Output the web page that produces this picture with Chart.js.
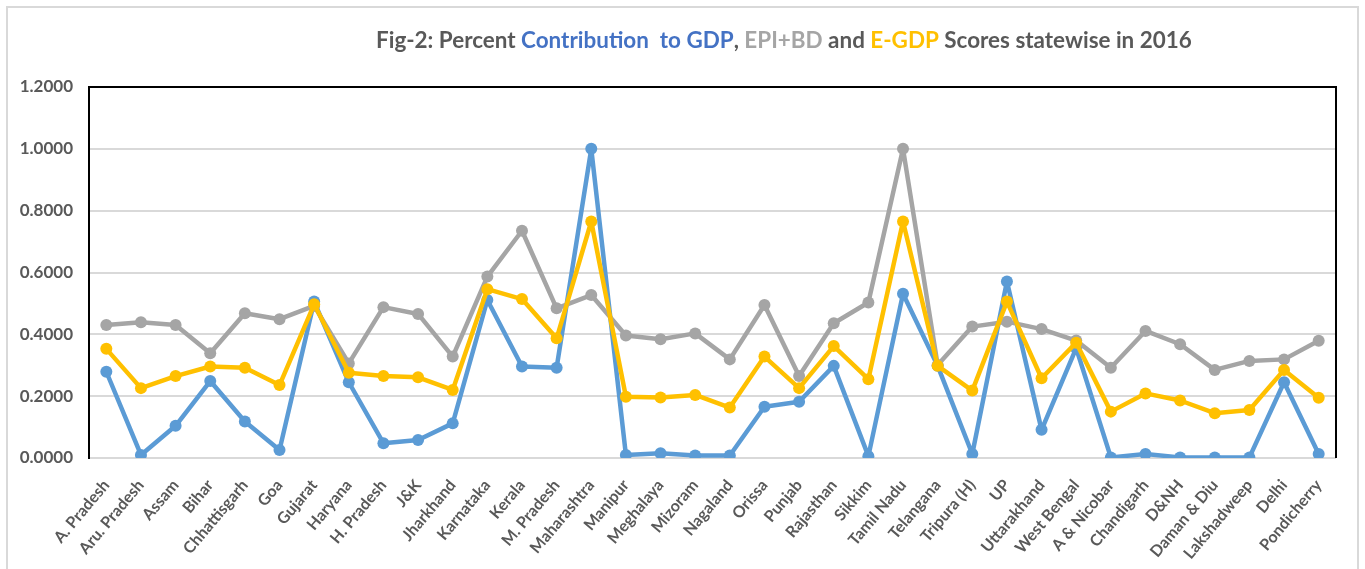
<!DOCTYPE html>
<html>
<head>
<meta charset="utf-8">
<script src="https://cdn.jsdelivr.net/npm/chart.js@4/dist/chart.umd.min.js"></script>
<style>
  html, body { margin: 0; padding: 0; background: #fff; }
  #wrap { width: 1365px; height: 569px; }
</style>
</head>
<body>
<div id="wrap"><canvas id="myChart" width="1365" height="569"></canvas></div>
<script>
// states on the x axis
var states = ['A. Pradesh', 'Aru. Pradesh', 'Assam', 'Bihar', 'Chhattisgarh', 'Goa', 'Gujarat',
    'Haryana', 'H. Pradesh', 'J&K', 'Jharkhand', 'Karnataka', 'Kerala', 'M. Pradesh', 'Maharashtra',
    'Manipur', 'Meghalaya', 'Mizoram', 'Nagaland', 'Orissa', 'Punjab', 'Rajasthan', 'Sikkim',
    'Tamil Nadu', 'Telangana', 'Tripura (H)', 'UP', 'Uttarakhand', 'West Bengal', 'A & Nicobar',
    'Chandigarh', 'D&NH', 'Daman & Diu', 'Lakshadweep', 'Delhi', 'Pondicherry'];

// percent contribution to GDP (blue)
var gdpContribution = [0.279, 0.010, 0.104, 0.249, 0.118, 0.026, 0.506, 0.245, 0.048, 0.058, 0.112, 0.511,
    0.296, 0.292, 1.000, 0.010, 0.015, 0.008, 0.008, 0.166, 0.182, 0.298, 0.006, 0.531,
    0.298, 0.013, 0.571, 0.091, 0.355, 0.002, 0.013, 0.002, 0.002, 0.002, 0.245, 0.013];

// EPI+BD score (grey)
var epiBd = [0.430, 0.439, 0.430, 0.339, 0.468, 0.449, 0.492, 0.306, 0.488, 0.466, 0.328, 0.587,
    0.735, 0.484, 0.527, 0.396, 0.384, 0.403, 0.319, 0.495, 0.265, 0.436, 0.503, 1.000,
    0.301, 0.425, 0.441, 0.417, 0.380, 0.292, 0.411, 0.368, 0.285, 0.314, 0.319, 0.379];

// E-GDP score (yellow)
var eGdp = [0.353, 0.226, 0.265, 0.296, 0.292, 0.236, 0.497, 0.276, 0.265, 0.261, 0.220, 0.546,
    0.514, 0.387, 0.765, 0.198, 0.196, 0.204, 0.163, 0.328, 0.226, 0.362, 0.255, 0.765,
    0.298, 0.218, 0.506, 0.258, 0.373, 0.150, 0.209, 0.186, 0.145, 0.155, 0.285, 0.195];

// title pieces with their colours
var titleParts = [
    ['Fig-2: Percent ', '#595959'],
    ['Contribution  to GDP', '#4472c4'],
    [', ', '#595959'],
    ['EPI+BD', '#a5a5a5'],
    [' and ', '#595959'],
    ['E-GDP', '#ffc000'],
    [' Scores statewise in 2016', '#595959']
];

var textColor = '#595959';
var fontFamily = 'Lato, "Open Sans", sans-serif';

// frame + multi coloured title
const framePlugin = {
    id: 'frame',
    beforeDatasetsDraw(chart) {
        const ctx = chart.ctx;
        const a = chart.chartArea;
        ctx.save();
        ctx.strokeStyle = '#000';
        ctx.lineWidth = 2;
        ctx.beginPath();
        ctx.moveTo(a.left, a.bottom);
        ctx.lineTo(a.left, a.top);
        ctx.lineTo(a.right, a.top);
        ctx.lineTo(a.right, a.bottom);
        ctx.stroke();
        ctx.restore();
    },
    afterDraw(chart) {
        const ctx = chart.ctx;
        ctx.save();
        // outer chart border
        ctx.strokeStyle = '#d9d9d9';
        ctx.lineWidth = 2;
        ctx.strokeRect(7, 7, 1351, 600);

        // title
        var size = 20;
        ctx.font = 'bold ' + size + 'px ' + fontFamily;
        var full = titleParts.map(p => p[0]).join('');
        var w = ctx.measureText(full).width;
        size = size * 814 / w;
        ctx.font = 'bold ' + size + 'px ' + fontFamily;
        var x = 376;
        ctx.textBaseline = 'middle';
        ctx.textAlign = 'left';
        titleParts.forEach(p => {
            ctx.fillStyle = p[1];
            ctx.fillText(p[0], x, 41);
            x += ctx.measureText(p[0]).width;
        });
        ctx.restore();
    }
};

function series(label, data, color, order) {
    return {
        label: label,
        data: data,
        borderColor: color,
        backgroundColor: color,
        borderWidth: 4.5,
        borderJoinStyle: 'round',
        borderCapStyle: 'round',
        pointRadius: 6,
        pointBorderWidth: 0,
        pointBackgroundColor: color,
        tension: 0,
        order: order
    };
}

const ctxc = document.getElementById('myChart');
const chart = new Chart(ctxc, {
    type: 'line',
    data: {
        labels: states,
        datasets: [
            series('Percent Contribution to GDP', gdpContribution, '#5b9bd5', 3),
            series('EPI+BD', epiBd, '#a5a5a5', 2),
            series('E-GDP', eGdp, '#ffc000', 1)
        ]
    },
    options: {
        responsive: false,
        animation: false,
        layout: {
            padding: { top: 87, right: 29, left: 0, bottom: 0 }
        },
        plugins: {
            legend: { display: false },
            title: { display: false },
            tooltip: { enabled: false }
        },
        scales: {
            x: {
                offset: true,
                grid: { display: false, drawTicks: false },
                border: { display: false },
                ticks: {
                    autoSkip: false,
                    maxRotation: 50,
                    minRotation: 50,
                    padding: 18,
                    color: textColor,
                    font: { family: fontFamily, size: 16, weight: 'bold' }
                },
                afterFit: function(scale) { scale.height = 111; }
            },
            y: {
                min: 0,
                max: 1.2,
                grid: { color: '#d9d9d9', lineWidth: 2, drawTicks: false },
                border: { display: true, color: '#000', width: 2 },
                ticks: {
                    stepSize: 0.2,
                    padding: 16,
                    color: textColor,
                    font: { family: fontFamily, size: 17, weight: 'bold' },
                    callback: function(v) { return Number(v).toFixed(4); }
                },
                afterFit: function(scale) { scale.width = 89; }
            }
        }
    },
    plugins: [framePlugin]
});
</script>
</body>
</html>
